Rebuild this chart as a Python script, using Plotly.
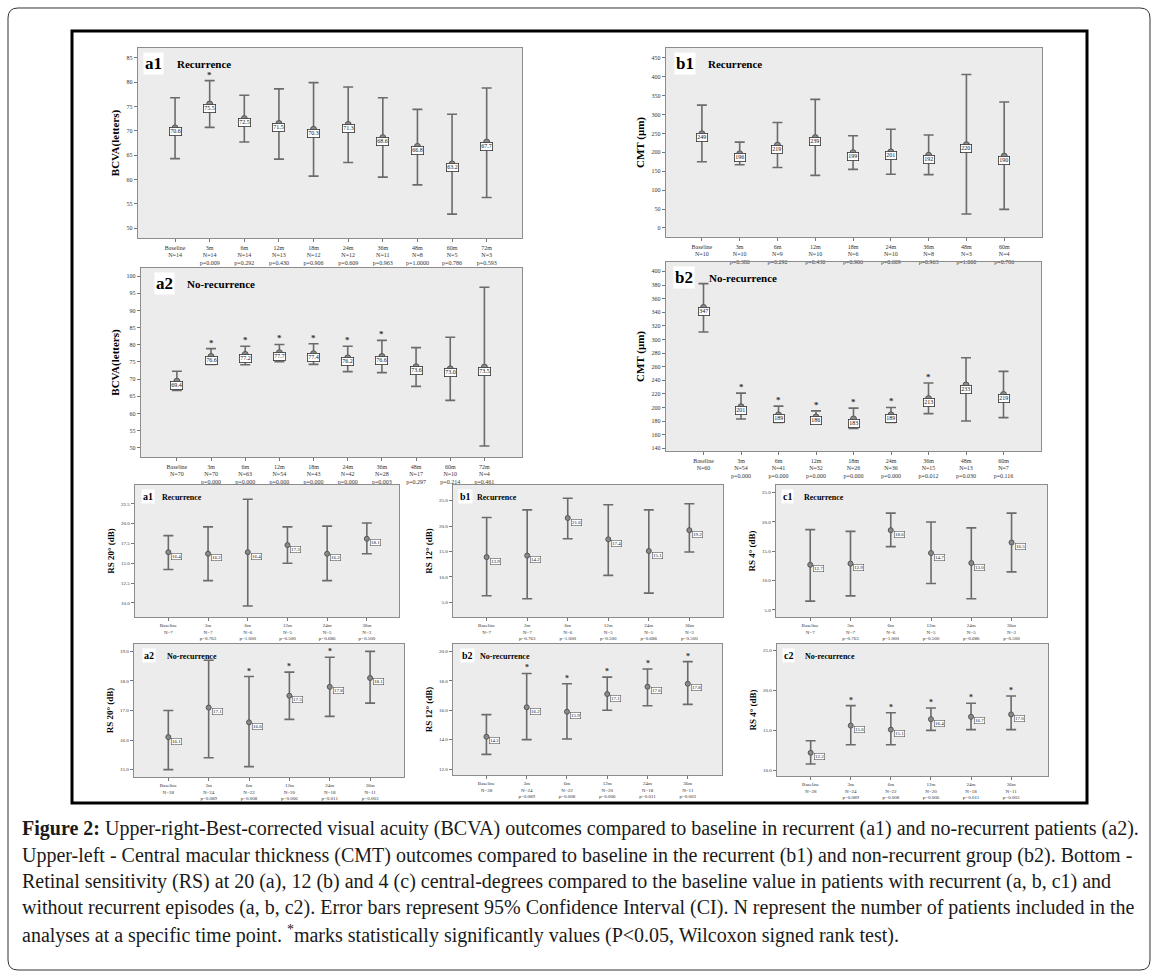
import plotly.graph_objects as go

W, H = 1158, 980
SERIF = "Liberation Serif"

# ---------------- data ----------------
# Top-left: BCVA recurrence (a1)
a1_cats = ["Baseline<br>N=14", "3m<br>N=14<br>p=0.009", "6m<br>N=14<br>p=0.292", "12m<br>N=13<br>p=0.430",
           "18m<br>N=12<br>p=0.906", "24m<br>N=12<br>p=0.609", "36m<br>N=11<br>p=0.963", "48m<br>N=8<br>p=1.0000",
           "60m<br>N=5<br>p=0.786", "72m<br>N=3<br>p=0.593"]
a1_mean = [70.6, 75.5, 72.5, 71.5, 70.3, 71.3, 68.6, 66.8, 63.2, 67.7]
a1_upper = [76.8, 80.3, 77.3, 78.6, 79.9, 79.0, 76.8, 74.4, 73.4, 78.8]
a1_lower = [64.3, 70.7, 67.7, 64.2, 60.7, 63.5, 60.5, 58.9, 52.9, 56.3]
a1_sig = [0, 1, 0, 0, 0, 0, 0, 0, 0, 0]
a1_yticks = [50, 55, 60, 65, 70, 75, 80, 85]

# Top-right: CMT recurrence (b1)
b1_cats = ["Baseline<br>N=10", "3m<br>N=10<br>p=0.380", "6m<br>N=9<br>p=0.292", "12m<br>N=10<br>p=0.430",
           "18m<br>N=6<br>p=0.906", "24m<br>N=10<br>p=0.609", "36m<br>N=8<br>p=0.963", "48m<br>N=3<br>p=1.000",
           "60m<br>N=4<br>p=0.786"]
b1_mean = [249, 196, 219, 239, 199, 201, 192, 220, 190]
b1_upper = [325, 227, 279, 340, 244, 261, 246, 406, 333]
b1_lower = [175, 167, 160, 139, 155, 142, 141, 37, 49]
b1_sig = [0, 0, 0, 0, 0, 0, 0, 0, 0]
b1_yticks = [0, 50, 100, 150, 200, 250, 300, 350, 400, 450]

# BCVA no-recurrence (a2)
a2_cats = ["Baseline<br>N=70", "3m<br>N=70<br>p=0.000", "6m<br>N=63<br>p=0.000", "12m<br>N=54<br>p=0.000",
           "18m<br>N=43<br>p=0.000", "24m<br>N=42<br>p=0.000", "36m<br>N=28<br>p=0.003", "48m<br>N=17<br>p=0.297",
           "60m<br>N=10<br>p=0.214", "72m<br>N=4<br>p=0.461"]
a2_mean = [69.4, 76.6, 77.2, 77.7, 77.4, 76.2, 76.6, 73.6, 73.0, 73.5]
a2_upper = [72.3, 78.9, 79.6, 80.1, 80.3, 79.6, 81.3, 79.2, 82.2, 96.8]
a2_lower = [66.7, 74.3, 74.2, 75.1, 74.3, 72.2, 71.9, 67.9, 63.8, 50.5]
a2_sig = [0, 1, 1, 1, 1, 1, 1, 0, 0, 0]
a2_yticks = [50, 55, 60, 65, 70, 75, 80, 85, 90, 95, 100]

# CMT no-recurrence (b2)
b2_cats = ["Baseline<br>N=60", "3m<br>N=54<br>p=0.000", "6m<br>N=41<br>p=0.000", "12m<br>N=32<br>p=0.000",
           "18m<br>N=26<br>p=0.000", "24m<br>N=36<br>p=0.000", "36m<br>N=15<br>p=0.012", "48m<br>N=13<br>p=0.030",
           "60m<br>N=7<br>p=0.116"]
b2_mean = [347, 201, 189, 186, 183, 189, 213, 233, 219]
b2_upper = [382, 221, 202, 195, 199, 200, 236, 273, 253]
b2_lower = [311, 183, 178, 179, 169, 178, 191, 180, 185]
b2_sig = [0, 1, 1, 1, 1, 1, 1, 0, 0]
b2_yticks = [140, 160, 180, 200, 220, 240, 260, 280, 300, 320, 340, 360, 380, 400]

# Retinal sensitivity, recurrence
rs_rec_cats = ["Baseline<br>N=7", "3m<br>N=7<br>p=0.763", "6m<br>N=6<br>p=1.000", "12m<br>N=5<br>p=0.500",
               "24m<br>N=5<br>p=0.686", "36m<br>N=3<br>p=0.500"]
rsa1_mean = [16.4, 16.2, 16.4, 17.3, 16.2, 18.1]
rsa1_upper = [18.5, 19.6, 23.1, 19.6, 19.7, 20.1]
rsa1_lower = [14.2, 12.8, 9.6, 15.0, 12.8, 16.2]
rsa1_yticks = [10.0, 12.5, 15.0, 17.5, 20.0, 22.5]

rsb1_mean = [13.9, 14.2, 21.6, 17.4, 15.1, 19.2]
rsb1_upper = [21.7, 23.2, 25.5, 24.2, 23.2, 24.4]
rsb1_lower = [6.3, 5.7, 17.5, 10.3, 6.8, 14.9]
rsb1_yticks = [5, 10, 15, 20, 25]

rsc1_mean = [12.7, 12.9, 18.6, 14.7, 13.0, 16.5]
rsc1_upper = [18.7, 18.4, 21.5, 20.0, 19.0, 21.5]
rsc1_lower = [6.5, 7.4, 15.8, 9.5, 6.9, 11.5]
rsc1_yticks = [5, 10, 15, 20, 25]

# Retinal sensitivity, no-recurrence
rs_norec_cats = ["Baseline<br>N=28", "3m<br>N=24<br>p=0.089", "6m<br>N=22<br>p=0.008", "12m<br>N=20<br>p=0.006",
                 "24m<br>N=18<br>p=0.011", "36m<br>N=11<br>p=0.003"]
rsa2_mean = [16.1, 17.1, 16.6, 17.5, 17.8, 18.1]
rsa2_upper = [17.0, 18.7, 18.15, 18.3, 18.8, 19.0]
rsa2_lower = [15.0, 15.4, 15.1, 16.7, 16.8, 17.25]
rsa2_sig = [0, 0, 1, 1, 1, 0]
rsa2_yticks = [15, 16, 17, 18, 19]

rsb2_mean = [14.2, 16.2, 15.9, 17.1, 17.6, 17.8]
rsb2_upper = [15.7, 18.5, 17.8, 18.25, 18.8, 19.3]
rsb2_lower = [13.0, 14.0, 14.05, 16.0, 16.3, 16.4]
rsb2_sig = [0, 1, 1, 1, 1, 1]
rsb2_yticks = [12, 14, 16, 18, 20]

rsc2_mean = [12.2, 15.6, 15.1, 16.4, 16.7, 17.0]
rsc2_upper = [13.7, 18.1, 17.2, 17.8, 18.4, 19.3]
rsc2_lower = [10.8, 13.2, 13.2, 15.0, 15.1, 15.1]
rsc2_sig = [0, 1, 1, 1, 1, 1]
rsc2_yticks = [10, 15, 20, 25]

no_sig6 = [0, 0, 0, 0, 0, 0]

caption_lines = [
    "<b>Figure 2:</b> Upper-right-Best-corrected visual acuity (BCVA) outcomes compared to baseline in recurrent (a1) and no-recurrent patients (a2).",
    "Upper-left - Central macular thickness (CMT) outcomes compared to baseline in the recurrent (b1) and non-recurrent group (b2). Bottom -",
    "Retinal sensitivity (RS) at 20 (a), 12 (b) and 4 (c) central-degrees compared to the baseline value in patients with recurrent (a, b, c1) and",
    "without recurrent episodes (a, b, c2). Error bars represent 95% Confidence Interval (CI). N represent the number of patients included in the",
    "analyses at a specific time point. <sup>*</sup>marks statistically significantly values (P&lt;0.05, Wilcoxon signed rank test).",
]

# ---------------- panels (layout in pixels) ----------------
panels = [
    dict(box=(138, 48, 522, 238), xr=(-1.07, 10.02), yr=(48, 87), cats=a1_cats, m=a1_mean, u=a1_upper, l=a1_lower,
         sig=a1_sig, yt=a1_yticks, yfmt="d", ytitle="BCVA(letters)", code="a1", name="Recurrence",
         lfmt="{:.1f}", big=True, tshift=(5, 37)),
    dict(box=(666, 48, 1042, 237), xr=(-0.95, 9.0), yr=(-24, 476), cats=b1_cats, m=b1_mean, u=b1_upper, l=b1_lower,
         sig=b1_sig, yt=b1_yticks, yfmt="d", ytitle="CMT (μm)", code="b1", name="Recurrence",
         lfmt="{:.0f}", big=True, tshift=(8, 40)),
    dict(box=(141, 268, 522, 457), xr=(-1.05, 10.1), yr=(47.3, 102.4), cats=a2_cats, m=a2_mean, u=a2_upper, l=a2_lower,
         sig=a2_sig, yt=a2_yticks, yfmt="d", ytitle="BCVA(letters)", code="a2", name="No-recurrence",
         lfmt="{:.1f}", big=True, tshift=(13, 44)),
    dict(box=(666, 262, 1041, 451), xr=(-1.0, 9.0), yr=(136, 413.8), cats=b2_cats, m=b2_mean, u=b2_upper, l=b2_lower,
         sig=b2_sig, yt=b2_yticks, yfmt="d", ytitle="CMT (μm)", code="b2", name="No-recurrence",
         lfmt="{:.0f}", big=True, tshift=(7, 41)),
    dict(box=(135, 485, 399, 617), xr=(-0.84, 5.81), yr=(8.2, 24.9), cats=rs_rec_cats, m=rsa1_mean, u=rsa1_upper,
         l=rsa1_lower, sig=no_sig6, yt=rsa1_yticks, yfmt=".1f", ytitle="RS 20° (dB)", code="a1", name="Recurrence",
         lfmt="{:.1f}", big=False, tshift=(6, 25)),
    dict(box=(453, 485, 723, 617), xr=(-0.83, 5.83), yr=(2.1, 28.1), cats=rs_rec_cats, m=rsb1_mean, u=rsb1_upper,
         l=rsb1_lower, sig=no_sig6, yt=rsb1_yticks, yfmt=".1f", ytitle="RS 12° (dB)", code="b1", name="Recurrence",
         lfmt="{:.1f}", big=False, tshift=(5, 22)),
    dict(box=(776, 485, 1047, 617), xr=(-0.85, 5.88), yr=(3.8, 26.3), cats=rs_rec_cats, m=rsc1_mean, u=rsc1_upper,
         l=rsc1_lower, sig=no_sig6, yt=rsc1_yticks, yfmt=".1f", ytitle="RS 4° (dB)", code="c1", name="Recurrence",
         lfmt="{:.1f}", big=False, tshift=(5, 26)),
    dict(box=(134, 644, 404, 777), xr=(-0.85, 5.84), yr=(14.75, 19.25), cats=rs_norec_cats, m=rsa2_mean, u=rsa2_upper,
         l=rsa2_lower, sig=rsa2_sig, yt=rsa2_yticks, yfmt=".1f", ytitle="RS 20° (dB)", code="a2", name="No-recurrence",
         lfmt="{:.1f}", big=False, tshift=(8, 31)),
    dict(box=(453, 644, 722, 775), xr=(-0.83, 5.85), yr=(11.6, 20.5), cats=rs_norec_cats, m=rsb2_mean, u=rsb2_upper,
         l=rsb2_lower, sig=rsb2_sig, yt=rsb2_yticks, yfmt=".1f", ytitle="RS 12° (dB)", code="b2", name="No-recurrence",
         lfmt="{:.1f}", big=False, tshift=(7, 25)),
    dict(box=(777, 644, 1048, 776), xr=(-0.84, 5.92), yr=(9.3, 25.8), cats=rs_norec_cats, m=rsc2_mean, u=rsc2_upper,
         l=rsc2_lower, sig=rsc2_sig, yt=rsc2_yticks, yfmt=".1f", ytitle="RS 4° (dB)", code="c2", name="No-recurrence",
         lfmt="{:.1f}", big=False, tshift=(5, 26)),
]

BORDER = "#8c8c8c"
BAR = "#6b6b6b"

fig = go.Figure()
layout = {}
for i, p in enumerate(panels, start=1):
    xn = "x" if i == 1 else f"x{i}"
    yn = "y" if i == 1 else f"y{i}"
    xk = "xaxis" if i == 1 else f"xaxis{i}"
    yk = "yaxis" if i == 1 else f"yaxis{i}"
    x0, y0, x1, y1 = p["box"]
    n = len(p["m"])
    fs_tick = 6 if p["big"] else 5
    layout[xk] = dict(domain=[x0 / W, x1 / W], range=list(p["xr"]), anchor=yn,
                      tickmode="array", tickvals=list(range(n)), ticktext=p["cats"],
                      showline=True, mirror=True, linecolor=BORDER, linewidth=1.3,
                      ticks="outside", ticklen=3, tickcolor="#777", tickangle=0,
                      tickfont=dict(family=SERIF, size=fs_tick, color="#333"),
                      showgrid=False, zeroline=False, fixedrange=True)
    layout[yk] = dict(domain=[1 - y1 / H, 1 - y0 / H], range=list(p["yr"]), anchor=xn,
                      tickmode="array", tickvals=p["yt"], tickformat=p["yfmt"],
                      showline=True, mirror=True, linecolor=BORDER, linewidth=1.3,
                      ticks="outside", ticklen=3, tickcolor="#777",
                      tickfont=dict(family=SERIF, size=fs_tick, color="#333"),
                      showgrid=False, zeroline=False, fixedrange=True,
                      title=dict(text="<b>" + p["ytitle"] + "</b>", standoff=4,
                                 font=dict(family=SERIF, size=11 if p["big"] else 9, color="black")))
    up = [u - m for u, m in zip(p["u"], p["m"])]
    dn = [m - l for m, l in zip(p["m"], p["l"])]
    fig.add_trace(go.Scatter(
        x=list(range(n)), y=p["m"], xaxis=xn, yaxis=yn, mode="markers",
        marker=dict(symbol="circle", size=6 if p["big"] else 5, color="#8a8a8a", line=dict(color="#555", width=1)),
        error_y=dict(type="data", symmetric=False, array=up, arrayminus=dn, color=BAR,
                     thickness=1.6, width=5),
        showlegend=False, hoverinfo="skip"))
    for j in range(n):
        if p["big"]:
            fig.add_annotation(x=j, y=p["m"][j], xref=xn, yref=yn, text=p["lfmt"].format(p["m"][j]),
                               showarrow=False, font=dict(family=SERIF, size=6, color="#111"),
                               bgcolor="white", bordercolor="#333", borderwidth=0.8, borderpad=0.5,
                               xanchor="center", yanchor="middle", yshift=-4)
        else:
            fig.add_annotation(x=j, y=p["m"][j], xref=xn, yref=yn, text=p["lfmt"].format(p["m"][j]),
                               showarrow=False, font=dict(family=SERIF, size=5, color="#111"),
                               bgcolor="white", bordercolor="#555", borderwidth=0.6, borderpad=0.3,
                               xanchor="left", yanchor="middle", xshift=3, yshift=-4)
        if p["sig"][j]:
            fig.add_annotation(x=j, y=p["u"][j], xref=xn, yref=yn, text="<b>*</b>", showarrow=False,
                               font=dict(family=SERIF, size=9 if p["big"] else 8, color="#333"),
                               yanchor="bottom", yshift=-1)
    # panel title
    fig.add_annotation(xref=f"{xn} domain", yref=f"{yn} domain", x=0, y=1, xanchor="left", yanchor="top",
                       xshift=p["tshift"][0], yshift=-4, showarrow=False, text="<b>" + p["code"] + "</b>",
                       font=dict(family=SERIF, size=17 if p["big"] else 10, color="black"),
                       bgcolor="white", borderpad=1)
    fig.add_annotation(xref=f"{xn} domain", yref=f"{yn} domain", x=0, y=1, xanchor="left", yanchor="top",
                       xshift=p["tshift"][1], yshift=-8 if p["big"] else -6, showarrow=False,
                       text="<b>" + p["name"] + "</b>",
                       font=dict(family=SERIF, size=11 if p["big"] else 8, color="black"))

# caption
cap_y = [828, 855, 881, 907, 934]
for txt, yy in zip(caption_lines, cap_y):
    fig.add_annotation(xref="paper", yref="paper", x=20 / W, y=1 - yy / H, xanchor="left", yanchor="middle",
                       showarrow=False, text=txt, font=dict(family=SERIF, size=20, color="#1a1a1a"))


def P(x, y):
    return f"{x / W:.5f},{1 - y / H:.5f}"


r = 10
ox0, oy0, ox1, oy1 = 8, 8, 1150, 970
outer = (f"M {P(ox0 + r, oy0)} L {P(ox1 - r, oy0)} Q {P(ox1, oy0)} {P(ox1, oy0 + r)} "
         f"L {P(ox1, oy1 - r)} Q {P(ox1, oy1)} {P(ox1 - r, oy1)} L {P(ox0 + r, oy1)} "
         f"Q {P(ox0, oy1)} {P(ox0, oy1 - r)} L {P(ox0, oy0 + r)} Q {P(ox0, oy0)} {P(ox0 + r, oy0)} Z")
shapes = [
    dict(type="path", xref="paper", yref="paper", path=outer, line=dict(color="#333", width=1)),
    dict(type="rect", xref="paper", yref="paper", x0=72 / W, x1=1087 / W, y0=1 - 803 / H, y1=1 - 31 / H,
         line=dict(color="black", width=3)),
]

fig.update_layout(**layout)
fig.update_layout(width=W, height=H, margin=dict(l=0, r=0, t=0, b=0), autosize=False,
                  paper_bgcolor="white", plot_bgcolor="#ececec", shapes=shapes, showlegend=False,
                  font=dict(family=SERIF))
fig.write_html("out.html", config={"displayModeBar": False, "staticPlot": True},
               post_script="document.body.style.margin='0px';document.body.style.overflow='hidden';")
